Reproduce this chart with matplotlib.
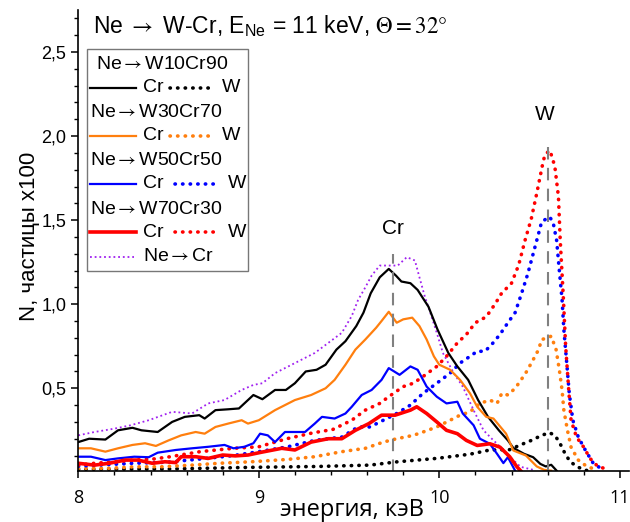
import matplotlib
matplotlib.use("Agg")
import matplotlib.pyplot as plt
from matplotlib.lines import Line2D
from matplotlib.patches import Rectangle
from matplotlib.ticker import MultipleLocator, FuncFormatter

plt.rcParams['font.family'] = ['Liberation Sans', 'DejaVu Sans']
plt.rcParams['mathtext.fontset'] = 'stix'

# ---------------- data (energy keV, N x100) ----------------
e_w10_cr = [8.00, 8.06, 8.15, 8.22, 8.30, 8.35, 8.44, 8.52, 8.59, 8.67, 8.70, 8.76, 8.83, 8.89, 8.92, 8.97,
            9.02, 9.09, 9.15, 9.20, 9.26, 9.32, 9.37, 9.43, 9.48, 9.54, 9.58, 9.62, 9.67, 9.72, 9.76, 9.79,
            9.84, 9.88, 9.94, 9.99, 10.05, 10.10, 10.16, 10.215, 10.27, 10.33, 10.38, 10.41, 10.47, 10.52,
            10.56, 10.59, 10.62, 10.65]
n_w10_cr = [0.18, 0.20, 0.195, 0.25, 0.265, 0.25, 0.24, 0.30, 0.33, 0.34, 0.32, 0.37, 0.375, 0.38, 0.41, 0.46,
            0.435, 0.49, 0.49, 0.53, 0.60, 0.61, 0.64, 0.73, 0.78, 0.87, 0.95, 1.065, 1.16, 1.21, 1.17, 1.135,
            1.125, 1.085, 0.985, 0.85, 0.71, 0.63, 0.55, 0.43, 0.33, 0.25, 0.19, 0.145, 0.11, 0.09,
            0.05, 0.035, 0.045, 0.01]

e_w30_cr = [8.00, 8.07, 8.15, 8.22, 8.30, 8.37, 8.43, 8.50, 8.57, 8.65, 8.70, 8.76, 8.83, 8.905, 8.94, 9.00,
            9.09, 9.20, 9.29, 9.37, 9.42, 9.48, 9.535, 9.59, 9.65, 9.68, 9.72, 9.764, 9.80, 9.85, 9.89, 9.93,
            9.97, 10.00, 10.06, 10.115, 10.17, 10.21, 10.26, 10.30, 10.37, 10.41, 10.48, 10.54, 10.58, 10.62]
n_w30_cr = [0.143, 0.143, 0.123, 0.143, 0.163, 0.173, 0.157, 0.19, 0.22, 0.24, 0.23, 0.27, 0.29, 0.31, 0.29, 0.31,
            0.37, 0.43, 0.46, 0.50, 0.55, 0.64, 0.73, 0.79, 0.86, 0.90, 0.955, 0.89, 0.91, 0.92, 0.87, 0.79,
            0.69, 0.64, 0.61, 0.55, 0.47, 0.39, 0.33, 0.32, 0.23, 0.13, 0.10, 0.035, 0.015, 0.01]

e_w50_cr = [8.00, 8.07, 8.15, 8.22, 8.31, 8.39, 8.44, 8.54, 8.63, 8.72, 8.81, 8.86, 8.92, 8.97, 9.007, 9.05,
            9.09, 9.145, 9.256, 9.31, 9.35, 9.42, 9.48, 9.515, 9.57, 9.625, 9.68, 9.72, 9.78, 9.84, 9.88, 9.93,
            9.986, 10.04, 10.10, 10.13, 10.19, 10.225, 10.28, 10.32, 10.355, 10.38, 10.42]
n_w50_cr = [0.093, 0.093, 0.073, 0.083, 0.093, 0.09, 0.117, 0.133, 0.143, 0.152, 0.163, 0.143, 0.152, 0.173, 0.23, 0.22,
            0.18, 0.24, 0.24, 0.29, 0.33, 0.32, 0.35, 0.39, 0.46, 0.49, 0.55, 0.62, 0.58, 0.63, 0.61, 0.51,
            0.45, 0.41, 0.42, 0.35, 0.28, 0.20, 0.17, 0.11, 0.055, 0.09, 0.01]

e_w70_cr = [8.00, 8.09, 8.17, 8.26, 8.33, 8.41, 8.48, 8.54, 8.57, 8.65, 8.72, 8.80, 8.87, 8.94, 9.016, 9.127,
            9.20, 9.29, 9.385, 9.46, 9.535, 9.61, 9.68, 9.755, 9.84, 9.875, 9.93, 9.986, 10.04, 10.10, 10.15,
            10.21, 10.28, 10.336, 10.39, 10.43, 10.45]
n_w70_cr = [0.054, 0.043, 0.054, 0.073, 0.073, 0.054, 0.063, 0.058, 0.093, 0.093, 0.083, 0.103, 0.098, 0.103, 0.12, 0.143,
            0.133, 0.18, 0.20, 0.20, 0.25, 0.29, 0.34, 0.34, 0.37, 0.39, 0.35, 0.30, 0.25, 0.23, 0.19,
            0.16, 0.17, 0.15, 0.093, 0.033, 0.01]

e_ne_cr = [8.00, 8.09, 8.20, 8.29, 8.39, 8.52, 8.63, 8.72, 8.81, 8.905, 8.97, 9.02, 9.09, 9.20, 9.31, 9.385,
           9.46, 9.515, 9.55, 9.59, 9.625, 9.67, 9.72, 9.77, 9.82, 9.865, 9.89, 9.92, 9.95, 9.986, 10.02,
           10.08, 10.13, 10.19, 10.245, 10.30, 10.34, 10.39, 10.45, 10.52]
n_ne_cr = [0.22, 0.24, 0.26, 0.28, 0.31, 0.36, 0.35, 0.41, 0.43, 0.49, 0.52, 0.53, 0.59, 0.65, 0.71, 0.77,
           0.83, 0.93, 1.025, 1.10, 1.17, 1.23, 1.23, 1.23, 1.28, 1.26, 1.16, 1.045, 0.95, 0.83, 0.71,
           0.59, 0.51, 0.37, 0.25, 0.19, 0.15, 0.093, 0.033, 0.015]

e_w10_w = [8.00, 8.50, 8.97, 9.33, 9.616, 9.77, 9.986, 10.17, 10.28, 10.39, 10.447, 10.51, 10.567, 10.61,
           10.64, 10.665, 10.696, 10.725, 10.77, 10.82]
n_w10_w = [0.018, 0.02, 0.03, 0.035, 0.043, 0.063, 0.083, 0.108, 0.133, 0.135, 0.162, 0.19, 0.22, 0.236,
           0.22, 0.18, 0.113, 0.063, 0.03, 0.01]

e_w30_w = [8.00, 8.17, 8.31, 8.46, 8.63, 8.78, 8.96, 9.16, 9.31, 9.46, 9.59, 9.69, 9.764, 9.856, 9.91, 9.986,
           10.06, 10.115, 10.17, 10.225, 10.28, 10.32, 10.346, 10.38, 10.42, 10.447, 10.484, 10.52, 10.55,
           10.567, 10.60, 10.62, 10.647, 10.665, 10.68, 10.69, 10.71, 10.73, 10.77, 10.82, 10.86]
n_w30_w = [0.024, 0.024, 0.033, 0.033, 0.043, 0.054, 0.063, 0.077, 0.093, 0.123, 0.143, 0.18, 0.20, 0.22, 0.24, 0.27,
           0.31, 0.34, 0.36, 0.41, 0.43, 0.41, 0.47, 0.46, 0.50, 0.54, 0.60, 0.67, 0.73,
           0.79, 0.80, 0.81, 0.73, 0.61, 0.49, 0.37, 0.25, 0.15, 0.073, 0.033, 0.02]

e_w50_w = [8.00, 8.305, 8.49, 8.71, 8.86, 9.00, 9.16, 9.31, 9.46, 9.55, 9.616, 9.69, 9.764, 9.84, 9.91, 9.986,
           10.06, 10.115, 10.17, 10.21, 10.253, 10.29, 10.336, 10.38, 10.42, 10.456, 10.49, 10.52, 10.55,
           10.567, 10.61, 10.63, 10.65, 10.665, 10.68, 10.69, 10.706, 10.72, 10.74, 10.77, 10.81, 10.853, 10.90]
n_w50_w = [0.037, 0.054, 0.06, 0.083, 0.10, 0.123, 0.152, 0.19, 0.21, 0.27, 0.27, 0.31, 0.35, 0.40, 0.47, 0.53,
           0.59, 0.65, 0.69, 0.72, 0.72, 0.76, 0.82, 0.89, 0.95, 1.065, 1.18, 1.30, 1.42,
           1.49, 1.52, 1.49, 1.38, 1.20, 1.03, 0.85, 0.65, 0.47, 0.31, 0.21, 0.13, 0.054, 0.02]

e_w70_w = [8.00, 8.09, 8.20, 8.31, 8.42, 8.51, 8.675, 8.86, 9.00, 9.155, 9.30, 9.41, 9.515, 9.59, 9.67, 9.72,
           9.80, 9.856, 9.91, 9.986, 10.04, 10.10, 10.15, 10.20, 10.26, 10.31, 10.345, 10.40, 10.44, 10.475,
           10.51, 10.54, 10.57, 10.585, 10.613, 10.64, 10.66, 10.67, 10.687, 10.70, 10.717, 10.73, 10.76,
           10.80, 10.835, 10.88, 10.93]
n_w70_w = [0.043, 0.054, 0.063, 0.073, 0.08, 0.093, 0.123, 0.143, 0.152, 0.20, 0.235, 0.255, 0.31, 0.37, 0.41, 0.45,
           0.51, 0.53, 0.57, 0.63, 0.69, 0.77, 0.82, 0.89, 0.925, 1.003, 1.065, 1.125, 1.234, 1.38,
           1.51, 1.66, 1.82, 1.89, 1.915, 1.82, 1.64, 1.38, 1.045, 0.75, 0.49, 0.31, 0.21,
           0.15, 0.083, 0.033, 0.02]

cr_peak_energy = 9.745
w_peak_energy = 10.60
cr_marker_top = 1.30
w_marker_top = 1.98

x_ticks = [8, 9, 10, 11]
y_ticks = [0.5, 1.0, 1.5, 2.0, 2.5]

C_BLACK = 'black'
C_ORANGE = '#FF7F0E'
C_BLUE = '#0000FF'
C_RED = '#FF0000'
C_PURPLE = '#A020F0'

ARROW = r'$\rightarrow$'

# ---------------- figure ----------------
W, H = 630, 522
fig = plt.figure(figsize=(W / 100, H / 100), dpi=100)
ax = fig.add_axes([78.3 / W, 1 - 471 / H, (629 - 78.3) / W, (471 - 10) / H])

dot = (0, (0.1, 2.0))
ax.plot(e_w10_w, n_w10_w, color=C_BLACK, lw=2.6, ls=dot, dash_capstyle='round')
ax.plot(e_w30_w, n_w30_w, color=C_ORANGE, lw=2.6, ls=dot, dash_capstyle='round')
ax.plot(e_w50_w, n_w50_w, color=C_BLUE, lw=2.6, ls=dot, dash_capstyle='round')
ax.plot(e_w70_w, n_w70_w, color=C_RED, lw=2.6, ls=dot, dash_capstyle='round')
ax.plot(e_ne_cr, n_ne_cr, color=C_PURPLE, lw=1.3, ls=(0, (1, 1.6)))
ax.plot(e_w10_cr, n_w10_cr, color=C_BLACK, lw=1.6, solid_joinstyle='round')
ax.plot(e_w30_cr, n_w30_cr, color=C_ORANGE, lw=1.6, solid_joinstyle='round')
ax.plot(e_w50_cr, n_w50_cr, color=C_BLUE, lw=1.6, solid_joinstyle='round')
ax.plot(e_w70_cr, n_w70_cr, color=C_RED, lw=2.6, solid_joinstyle='round')

ax.vlines([cr_peak_energy], 0, cr_marker_top, colors='#808080', lw=1.5, linestyles=(0, (6, 4)))
ax.vlines([w_peak_energy], 0, w_marker_top, colors='#808080', lw=1.5, linestyles=(0, (6, 4)))
ax.text(cr_peak_energy, 1.45, 'Cr', ha='center', va='center', fontsize=15)
ax.text(w_peak_energy - 0.015, 2.13, 'W', ha='center', va='center', fontsize=15)

ax.set_xlim(8, 8 + (629 - 78.3) / 180.5)
ax.set_ylim(0.008, 2.75)
for s in ['top', 'right']:
    ax.spines[s].set_visible(False)
for s in ['left', 'bottom']:
    ax.spines[s].set_linewidth(1.2)
ax.set_xticks(x_ticks)
ax.set_yticks(y_ticks)
ax.xaxis.set_minor_locator(MultipleLocator(0.2))
ax.yaxis.set_minor_locator(MultipleLocator(0.1))
ax.yaxis.set_major_formatter(FuncFormatter(lambda v, p: f"{v:.1f}".replace('.', ',')))
ax.xaxis.set_major_formatter(FuncFormatter(lambda v, p: f"{v:.0f}"))
ax.tick_params(which='major', length=5, width=1.1, labelsize=13, direction='out')
ax.tick_params(which='minor', length=3, width=1.0, direction='out')
ax.tick_params(axis='x', pad=8)
for lab in ax.get_xticklabels():
    lab.set_family(['Open Sans', 'DejaVu Sans'])

fig.text(352 / W, 1 - 510 / H, 'энергия, кэВ', ha='center', va='center', fontsize=17,
         family=['Open Sans', 'DejaVu Sans'])
fig.text(30 / W, 1 - 236 / H, 'N, частицы x100', ha='center', va='center', rotation=90, fontsize=16)

fig.text(93 / W, 1 - 26 / H,
         r'Ne ' + ARROW + r' W-Cr, E$_\mathregular{Ne}$ = 11 keV, $\Theta = 32°$',
         ha='left', va='center', fontsize=16.5)

# ---------------- legend (manual) ----------------
def fx(x):
    return x / W


def fy(y):
    return 1 - y / H


fig.add_artist(Rectangle((fx(87.3), fy(270.7)), fx(248.3) - fx(87.3), fy(49.3) - fy(270.7),
                         transform=fig.transFigure, fill=False, edgecolor='#777777', lw=1.0))

leg_fs = 14
rows = [
    ('Ne' + ARROW + 'W10Cr90', 64.3, 96, C_BLACK, 87.7, 1.6, 170, 212, 222),
    ('Ne' + ARROW + 'W30Cr70', 112.7, 90, C_ORANGE, 136.0, 1.6, 170, 212, 222),
    ('Ne' + ARROW + 'W50Cr50', 161.0, 90, C_BLUE, 184.0, 1.6, 175, 217, 228),
    ('Ne' + ARROW + 'W70Cr30', 209.0, 90, C_RED, 232.3, 2.6, 175, 217, 228),
]
for name, ty, tx, col, ly, lw, d0, d1, wx in rows:
    fig.text(fx(tx), fy(ty), name, ha='left', va='center', fontsize=leg_fs)
    fig.add_artist(Line2D([fx(90), fx(136)], [fy(ly), fy(ly)], color=col, lw=lw, transform=fig.transFigure))
    fig.text(fx(142.7), fy(ly), 'Cr', ha='left', va='center', fontsize=leg_fs)
    fig.add_artist(Line2D([fx(d0), fx(d1)], [fy(ly), fy(ly)], color=col, lw=2.6, ls=dot,
                          dash_capstyle='round', transform=fig.transFigure))
    fig.text(fx(wx), fy(ly), 'W', ha='left', va='center', fontsize=leg_fs)

fig.add_artist(Line2D([fx(90), fx(134)], [fy(256.7), fy(256.7)], color=C_PURPLE, lw=1.3,
                      ls=(0, (1, 1.6)), transform=fig.transFigure))
fig.text(fx(143.3), fy(256.7), 'Ne' + ARROW + 'Cr', ha='left', va='center', fontsize=leg_fs)

fig.savefig('out.png', dpi=100)
